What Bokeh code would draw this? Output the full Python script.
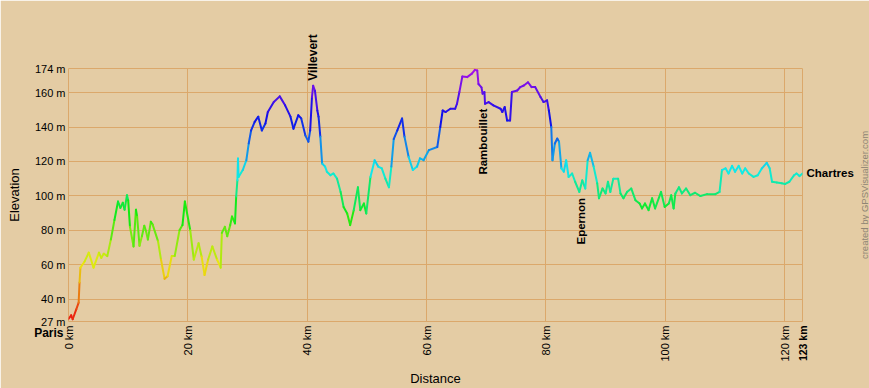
import colorsys
from math import pi

import numpy as np
from bokeh.core.properties import value
from bokeh.embed import file_html
from bokeh.models import ColumnDataSource, FixedTicker, Range1d
from bokeh.plotting import figure
from bokeh.resources import INLINE
from bokeh.transform import linear_cmap

# ---- data ----
km = [0.0, 0.45, 0.7, 1.3, 1.7, 1.85, 2.0, 2.7, 3.4, 4.2, 5.1, 5.5, 5.9, 6.5, 7.1, 7.7, 8.3, 8.7, 9.1, 9.4,
      9.8, 10.0, 10.3, 10.9, 11.3, 11.5, 11.9, 12.3, 12.7, 13.0, 13.3, 13.8, 14.1, 15.0, 15.5, 16.1, 16.6,
      17.3, 17.8, 18.6, 19.1, 19.5, 20.4, 21.0, 21.8, 22.3, 22.8, 23.4, 24.1, 24.9, 25.5, 25.7, 26.2, 26.6,
      27.1, 27.4, 27.9, 28.1, 28.3, 28.4, 28.5, 29.2, 29.8, 30.2, 30.6, 31.2, 31.8, 32.4, 33.0, 33.4, 34.4,
      35.4, 36.3, 37.2, 37.7, 38.5, 39.0, 39.7, 40.2, 40.5, 40.8, 41.0, 41.3, 41.7, 41.9, 42.2, 42.5, 43.0,
      43.3, 43.9, 44.4, 45.0, 45.6, 46.1, 46.7, 47.2, 47.8, 48.5, 48.9, 49.5, 49.9, 50.6, 51.3, 51.9, 52.5,
      53.1, 53.7, 54.1, 54.5, 55.1, 55.9, 56.3, 57.0, 57.7, 58.4, 58.9, 59.5, 60.4, 61.8, 62.3, 62.7, 63.2,
      64.0, 64.8, 65.1, 65.5, 66.0, 66.8, 67.6, 68.1, 68.5, 68.7, 69.2, 69.4, 69.7, 69.8, 70.4, 71.2, 72.4,
      72.7, 73.1, 73.5, 74.0, 74.3, 75.2, 75.7, 76.3, 77.0, 77.6, 78.2, 79.1, 79.6, 80.2, 80.5, 80.9, 81.1,
      81.5, 81.9, 82.2, 82.6, 83.0, 83.4, 83.8, 84.4, 84.9, 85.6, 86.1, 86.6, 87.0, 87.4, 88.0, 88.6, 88.9,
      89.5, 90.0, 90.4, 90.8, 91.3, 92.1, 92.5, 93.0, 93.6, 94.3, 95.0, 95.7, 96.1, 96.6, 97.2, 97.8, 98.3,
      99.3, 99.9, 100.6, 101.0, 101.4, 101.7, 102.3, 102.8, 103.5, 104.2, 105.0, 105.9, 107.0, 108.4, 109.1,
      109.5, 110.1, 110.6, 111.2, 111.7, 112.3, 112.9, 113.4, 114.0, 114.8, 115.5, 116.2, 117.0, 117.5,
      117.9, 118.7, 119.5, 120.1, 120.8, 121.6, 122.0, 122.5, 123.0]
elev = [28.5, 30.6, 28.3, 34, 38, 49.7, 58.3, 61.9, 67, 58.3, 67, 64, 66.4, 65, 74.6, 86, 96.7, 93, 96, 92,
        100.4, 97.5, 82, 70.6, 92, 88, 71, 76.5, 82.6, 79.4, 74.6, 85, 83.3, 73.7, 63, 51.8, 53.3,
        65, 65, 80, 83, 96.7, 80, 63, 72.5, 64.8, 54, 63, 70.6, 63, 58.3, 78.5, 82, 76.5,
        83, 88, 84, 99.6, 109, 121.7, 111, 115, 120.7, 130.4, 138, 143, 146, 138, 142, 148.7, 154.5,
        157.8, 152.6, 146, 139, 146.8, 145, 135, 131.5, 138, 157.4, 164, 161, 149.6, 146, 134.4, 118.8, 117,
        114, 112, 113, 110, 102.3, 93.5, 89.8, 83, 91.7, 105, 91.7, 95.6, 89.8, 111, 120.7, 117, 116,
        110, 105, 117, 133, 138, 145, 134.4, 122.6, 115, 117, 121.8, 120.7, 126.6, 128.4, 140, 149.6, 148.7,
        150.6, 150.6, 153.5, 160.3, 169.4, 169, 171, 173.2, 172.8, 165, 163, 159.3, 160.3, 153.5, 154.5, 152.6, 150.6,
        148.7, 151.6, 143.8, 143.8, 160.3, 161.2, 163.2, 164.1, 166, 163.2, 163.2, 157.4, 154.5, 155.5, 149.6, 140, 120.7,
        130.4, 133.3, 131.4, 116, 114, 120.7, 111, 113, 108.2, 102.3, 109, 104.3, 120.7, 125, 117, 107.3, 98.6,
        104.3, 101.4, 108.2, 102.3, 110, 110, 101.4, 98.6, 102.3, 104.3, 97.5, 95.6, 92.7, 95.6, 91.7, 98.6, 92.7,
        102.3, 93.6, 95.6, 100.4, 92.7, 101.4, 105, 101.4, 104.3, 100.4, 101.8, 99.9, 101, 101, 102.3,
        115, 116, 113, 117.4, 114, 117.4, 113, 116, 113, 111, 112, 116, 119.2, 116,
        108.2, 107.7, 107.3, 106.9, 108.2, 112, 113, 111.5, 113]

y_ticks = [27, 40, 60, 80, 100, 120, 140, 160, 174]
x_ticks = [0, 20, 40, 60, 80, 100, 120]
x_total = 123

place_names = ["Paris", "Villevert", "Rambouillet", "Epernon", "Chartres"]
place_km = [0.0, 41.0, 69.4, 85.9, 123.0]
place_elev = [27.0, 164.0, 153.5, 102.3, 113.0]

# ---- style ----
BG = "#E4CCA4"
GRID = "#DBA86B"
FONT = "Liberation Sans"

# elevation colour ramp (red -> yellow -> green -> cyan -> blue -> purple)
ramp_e = [27, 60, 90, 110, 122, 142, 174]
ramp_h = [0, 58, 120, 168, 195, 235, 282]
palette = []
for ev in np.linspace(27, 174, 256):
    h = float(np.interp(ev, ramp_e, ramp_h)) / 360.0
    r, g, b = colorsys.hsv_to_rgb(h, 0.93, 0.92)
    palette.append("#%02x%02x%02x" % (int(r * 255), int(g * 255), int(b * 255)))

ymin, ymax = min(y_ticks), max(y_ticks)

p = figure(width=869, height=388, output_backend="svg", toolbar_location=None,
           x_range=Range1d(0, x_total), y_range=Range1d(ymin, ymax),
           min_border_left=68, min_border_right=67, min_border_top=68, min_border_bottom=67)
p.background_fill_color = BG
p.border_fill_color = BG
p.outline_line_color = GRID
p.outline_line_width = 1

p.grid.grid_line_color = GRID
p.grid.grid_line_width = 1

# y axis
p.yaxis.ticker = FixedTicker(ticks=y_ticks)
p.yaxis.major_label_overrides = {t: f"{t} m" for t in y_ticks}
p.yaxis.axis_label = "Elevation"
p.yaxis.axis_label_text_font = FONT
p.yaxis.axis_label_text_font_style = "normal"
p.yaxis.axis_label_text_font_size = "13px"
p.yaxis.axis_label_text_color = "black"
p.yaxis.axis_label_standoff = 10
# x axis
p.xaxis.ticker = FixedTicker(ticks=x_ticks)
p.xaxis.major_label_overrides = {t: f"{t} km" for t in x_ticks}
p.xaxis.major_label_orientation = pi / 2
for ax in (p.xaxis, p.yaxis):
    ax.axis_line_color = None
    ax.major_tick_line_color = None
    ax.minor_tick_line_color = None
    ax.major_tick_out = 0
    ax.major_tick_in = 0
    ax.minor_tick_out = 0
    ax.minor_tick_in = 0
    ax.major_label_text_font = FONT
    ax.major_label_text_font_size = "11px"
    ax.major_label_text_color = "black"
p.yaxis.major_label_standoff = 3
p.xaxis.major_label_standoff = 4

# profile
k = np.array(km)
e = np.array(elev)
src = ColumnDataSource(dict(x0=k[:-1], x1=k[1:], y0=e[:-1], y1=e[1:], ym=(e[:-1] + e[1:]) / 2))
p.segment("x0", "y0", "x1", "y1", source=src, line_width=2, line_cap="round",
          line_color=linear_cmap("ym", palette, ymin, ymax))


def txt(text, x, y, size="11.5px", style="bold", color="black", **kw):
    # text glyphs drawn on the overlay level so they are not clipped to the frame
    p.text(x=[x], y=[y], text=[text], text_font=value(FONT), text_font_size=size,
           text_font_style=style, text_color=color, level="overlay", **kw)


# place names (glyph offsets: screen pixels, positive y = down)
txt(place_names[0], place_km[0], place_elev[0], size="12px", text_align="right", text_baseline="top",
    x_offset=-5, y_offset=4)
txt(place_names[1], place_km[1], place_elev[1], size="12px", angle=pi / 2, text_align="left",
    text_baseline="middle", y_offset=-5)
txt(place_names[2], place_km[2], place_elev[2], angle=pi / 2, text_align="right",
    text_baseline="middle", y_offset=5)
txt(place_names[3], place_km[3], place_elev[3], angle=pi / 2, text_align="right",
    text_baseline="middle", y_offset=6)
txt(place_names[4], place_km[4], place_elev[4], text_align="left", text_baseline="middle", x_offset=4)

# end-of-route distance label
txt(f"{x_total} km", x_total, ymin, size="10.5px", angle=pi / 2, text_align="right",
    text_baseline="middle", y_offset=4)
# x axis title
txt("Distance", x_total / 2, ymin, size="13px", style="normal", text_align="center",
    text_baseline="middle", y_offset=57)
# credit
txt("created by GPSVisualizer.com", x_total, (ymin + ymax) / 2, size="9.5px", style="normal",
    color="#8f8575", angle=pi / 2, text_align="center", text_baseline="middle", x_offset=62)

open("out.html", "w").write(file_html(p, INLINE))
